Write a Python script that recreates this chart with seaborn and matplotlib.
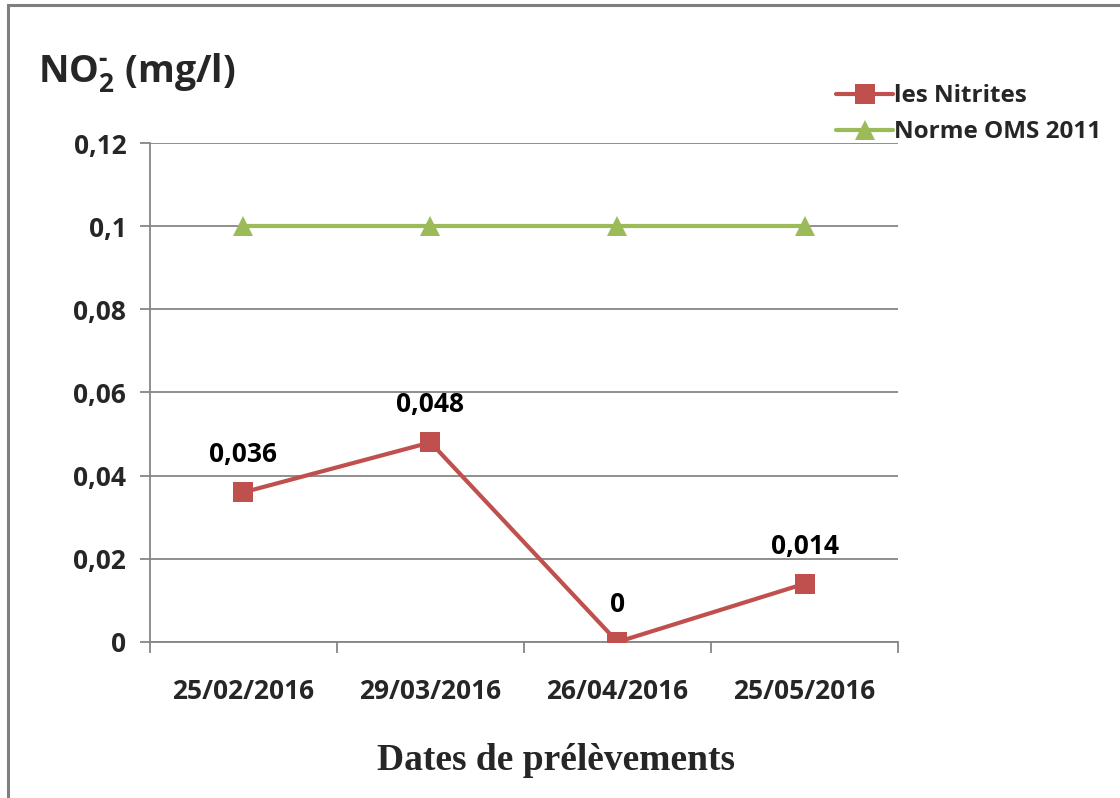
import matplotlib
matplotlib.use("Agg")
import matplotlib.pyplot as plt
import seaborn as sns
import pandas as pd
from matplotlib.patches import Rectangle

# Sampling dates and measured nitrite concentrations (mg/l)
dates = ["25/02/2016", "29/03/2016", "26/04/2016", "25/05/2016"]
nitrites = [0.036, 0.048, 0.0, 0.014]
nitrite_labels = ["0,036", "0,048", "0", "0,014"]
# WHO 2011 guideline value
norme_oms = [0.1, 0.1, 0.1, 0.1]
y_ticks = [0, 0.02, 0.04, 0.06, 0.08, 0.10, 0.12]
y_tick_labels = ["0", "0,02", "0,04", "0,06", "0,08", "0,1", "0,12"]

sns.set_theme(style="white")
plt.rcParams["font.family"] = ["Open Sans", "DejaVu Sans"]
plt.rcParams["mathtext.fontset"] = "custom"
plt.rcParams["mathtext.rm"] = "Open Sans:bold"
plt.rcParams["mathtext.it"] = "Open Sans:bold"
plt.rcParams["mathtext.bf"] = "Open Sans:bold"

RED = "#C0504D"
GREEN = "#9BBB59"
GRID = "#868686"
FS = 19

fig = plt.figure(figsize=(11.2, 7.98), dpi=100)
ax = fig.add_axes([0.1339, 0.1955, 0.8018 - 0.1339, 0.8208 - 0.1955])

df = pd.DataFrame({"date": dates, "nitrites": nitrites, "oms": norme_oms})
df["pos"] = range(len(dates))

sns.lineplot(data=df, x="pos", y="nitrites", ax=ax, color=RED, linewidth=3.0,
             marker="s", markersize=14, markeredgewidth=0, label="les Nitrites",
             legend=False, zorder=4)
sns.lineplot(data=df, x="pos", y="oms", ax=ax, color=GREEN, linewidth=3.0,
             marker="^", markersize=14, markeredgewidth=0, label="Norme OMS 2011",
             legend=False, zorder=3)

for xp, yv, lab in zip(df["pos"], nitrites, nitrite_labels):
    ax.annotate(lab, (xp, yv), xytext=(0, 27), textcoords="offset points",
                ha="center", va="center", fontsize=FS, fontweight="bold",
                color="black")

ax.set_xlim(-0.5, len(dates) - 0.5)
ax.set_ylim(0, 0.12)
ax.set_yticks(y_ticks)
ax.set_yticklabels(y_tick_labels, fontsize=FS, fontweight="bold")
ax.set_xticks(list(range(len(dates))))
ax.set_xticklabels(dates, fontsize=FS, fontweight="bold")
ax.set_xticks([i - 0.5 for i in range(len(dates) + 1)], minor=True)
ax.tick_params(axis="x", which="major", length=0, pad=26)
ax.tick_params(axis="x", which="minor", length=8, width=1.3, color=GRID,
               direction="out", bottom=True)
ax.tick_params(axis="y", which="major", length=7, width=1.3, color=GRID,
               direction="out", left=True, pad=10)
ax.set_xlabel("")
ax.set_ylabel("")

ax.grid(axis="y", color=GRID, linewidth=1.3)
ax.grid(axis="x", visible=False)
ax.set_axisbelow(True)
for side in ["top", "right"]:
    ax.spines[side].set_visible(False)
for side in ["left", "bottom"]:
    ax.spines[side].set_color(GRID)
    ax.spines[side].set_linewidth(1.3)

fig.text(0.034, 0.908, r"NO$_2^{\text{-}}$ (mg/l)", fontsize=27, fontweight="bold",
         ha="left", va="center")
fig.text(0.496, 0.047, "Dates de prélèvements", fontsize=27, fontweight="bold",
         family="Liberation Serif", ha="center", va="center")

handles, labels = ax.get_legend_handles_labels()
fig.legend(handles, labels, loc="upper left", bbox_to_anchor=(0.727, 0.922),
           frameon=False, handlelength=2.35, handletextpad=0.05,
           labelspacing=0.5, prop={"weight": "bold", "size": 17.5})

# chart area border
fig.patches.append(Rectangle((8 / 1120, -0.1), 1.2, 1 - 5 / 798 + 0.1,
                             transform=fig.transFigure, fill=False,
                             edgecolor="#7F7F7F", linewidth=2.2))

fig.savefig("out.png", dpi=100)
